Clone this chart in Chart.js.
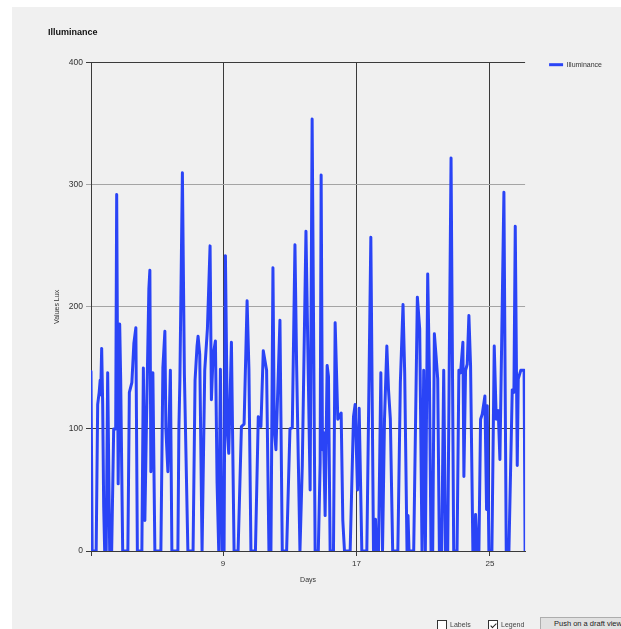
<!DOCTYPE html>
<html>
<head>
<meta charset="utf-8">
<title>Illuminance</title>
<script src="https://cdn.jsdelivr.net/npm/chart.js@4.4.1/dist/chart.umd.min.js"></script>
<style>
  html, body { margin: 0; padding: 0; width: 621px; height: 629px; overflow: hidden; background: #ffffff;
    font-family: "Liberation Sans", Arial, sans-serif; }
  #panel { position: absolute; left: 12px; top: 7px; width: 609px; height: 622px; background: #f0f0f0; }
  #chart { position: absolute; left: 0; top: 0; }
  .opt { position: absolute; top: 619px; height: 11px; font-size: 7px; line-height: 11px; color: #444; }
  .opt .box { position: absolute; left: 0; top: 1px; width: 8px; height: 8px; border: 1px solid #333; background: #fff; }
  .opt .tick { position: absolute; left: 3px; top: 1px; width: 2px; height: 5px; border-right: 1.2px solid #222;
    border-bottom: 1.2px solid #222; transform: rotate(45deg); }
  .opt span.txt { position: absolute; left: 13px; top: 0; white-space: nowrap; }
  #btn { position: absolute; left: 540px; top: 617px; width: 90px; height: 12px; background: #e1e1e1;
    border: 1px solid #adadad; font-size: 7.5px; line-height: 12px; color: #222; padding-left: 13px; white-space: nowrap; }
</style>
</head>
<body>
<div id="panel"></div>
<canvas id="chart" width="621" height="629"></canvas>
<div class="opt" style="left:437px;"><div class="box"></div><span class="txt">Labels</span></div>
<div class="opt" style="left:488px;"><div class="box"><div class="tick"></div></div><span class="txt">Legend</span></div>
<div id="btn">Push on a draft view</div>
<script>
// Illuminance readings: time in days and lux at each reading.
const days = [
  1.08, 1.15, 1.39, 1.48, 1.57, 1.63, 1.66, 1.72, 1.78, 1.84, 1.90, 1.99, 2.08, 2.20, 2.32, 2.44, 2.56, 2.62, 2.71, 2.80, 2.86, 2.98,
  3.29, 3.38, 3.53, 3.65, 3.77, 3.86, 4.13, 4.22, 4.31, 4.40, 4.55, 4.61, 4.67, 4.79, 4.91,
  5.27, 5.39, 5.51, 5.57, 5.69, 5.84, 5.93, 6.29, 6.35, 6.41, 6.56, 6.68, 6.89,
  7.20, 7.32, 7.44, 7.50, 7.60, 7.74, 7.90, 8.06, 8.22, 8.30, 8.40, 8.54, 8.64, 8.74, 8.84, 8.94,
  9.06, 9.14, 9.26, 9.34, 9.50, 9.66, 9.90, 10.10, 10.26, 10.44, 10.55, 10.67, 10.94, 11.11, 11.27, 11.41, 11.61, 11.75, 11.87, 11.99, 12.07, 12.17, 12.41, 12.55,
  12.81, 13.01, 13.15, 13.31, 13.41, 13.51, 13.61, 13.75, 13.97, 14.11, 14.22, 14.34, 14.52,
  14.71, 14.82, 14.88, 14.96, 15.02, 15.12, 15.24, 15.32, 15.42, 15.62, 15.72, 15.88, 16.08, 16.18, 16.28,
  16.62, 16.82, 16.92, 17.06, 17.16, 17.32, 17.62, 17.86, 18.02, 18.14, 18.20, 18.32, 18.46, 18.56, 18.68, 18.82, 18.92, 19.03, 19.17,
  19.48, 19.63, 19.79, 19.89, 20.03, 20.09, 20.15, 20.43, 20.65, 20.79, 20.93, 21.03, 21.13, 21.27, 21.37, 21.47, 21.57, 21.67, 21.77, 21.87, 21.97,
  22.11, 22.23, 22.34, 22.47, 22.57, 22.67, 22.83, 23.03, 23.14, 23.24, 23.38, 23.44, 23.54, 23.64, 23.74, 23.84, 23.98,
  24.10, 24.14, 24.24, 24.34, 24.44, 24.54, 24.70, 24.80, 24.84, 24.94, 25.12, 25.26, 25.38, 25.50, 25.60, 25.84, 25.98,
  26.14, 26.34, 26.44, 26.52, 26.64, 26.70, 26.85, 27.05, 27.11
];
const lux = [
  147, 0, 0, 120, 130, 140, 128, 166, 120, 37, 0, 0, 146, 0, 0, 100, 100, 292, 55, 186, 140, 0,
  0, 130, 138, 170, 183, 0, 0, 150, 25, 100, 215, 230, 65, 146, 0,
  0, 150, 180, 100, 65, 148, 0, 0, 100, 140, 310, 145, 0,
  0, 140, 168, 176, 161, 0, 148, 182, 250, 124, 160, 172, 56, 0, 149, 0,
  0, 242, 97, 80, 171, 0, 0, 102, 104, 205, 149, 0, 0, 110, 102, 164, 148, 0, 0, 232, 100, 83, 189, 0,
  0, 100, 101, 251, 152, 75, 0, 70, 262, 143, 50, 354, 0,
  0, 72, 308, 83, 97, 29, 152, 143, 0, 0, 187, 108, 113, 25, 0,
  0, 110, 120, 50, 117, 0, 0, 257, 0, 26, 0, 0, 146, 0, 108, 168, 132, 108, 0,
  0, 138, 202, 146, 0, 29, 0, 0, 208, 182, 0, 148, 0, 227, 148, 0, 0, 178, 160, 141, 0,
  0, 148, 0, 0, 165, 322, 0, 0, 148, 146, 171, 61, 148, 153, 193, 152, 0,
  0, 30, 0, 0, 108, 112, 127, 34, 119, 0, 0, 168, 108, 115, 75, 294, 0,
  0, 132, 130, 266, 70, 141, 148, 148, 0
];
const dayTicks = [9, 17, 25];
const luxTicks = [0, 100, 200, 300, 400];

const FONT = '"Liberation Sans", Arial, sans-serif';
const lineColor = '#2a44f6';
const darkGrid = '#3a3a3a';
const lightGrid = '#a4a4a4';
const textColor = '#333333';

Chart.defaults.font.family = FONT;

new Chart(document.getElementById('chart'), {
  type: 'line',
  data: {
    datasets: [{
      label: 'Illuminance',
      data: days.map((d, i) => ({ x: d, y: lux[i] })),
      borderColor: lineColor,
      backgroundColor: lineColor,
      borderWidth: 3,
      pointRadius: 0,
      tension: 0,
      borderJoinStyle: 'round',
      borderCapStyle: 'round',
      fill: false
    }]
  },
  options: {
    responsive: false,
    animation: false,
    devicePixelRatio: 1,
    layout: { padding: { left: 48, top: 27, right: 9, bottom: 24 } },
    plugins: {
      title: {
        display: true, text: 'Illuminance', align: 'start', color: '#111',
        font: { size: 9, weight: 'bold' }, padding: { top: 0, bottom: 25 }
      },
      legend: {
        display: true, position: 'right', align: 'start',
        title: { display: true, text: '', font: { size: 8.5 }, padding: 0 },
        labels: {
          usePointStyle: true, pointStyle: 'line', pointStyleWidth: 14,
          padding: 24, color: textColor, font: { size: 7 }
        }
      },
      tooltip: { enabled: false }
    },
    scales: {
      x: {
        type: 'linear',
        min: days[0],
        max: days[days.length - 1],
        afterBuildTicks: s => { s.ticks = [s.min, ...dayTicks].map(v => ({ value: v })); },
        afterFit: s => { s.height = 54; },
        ticks: {
          autoSkip: false, maxRotation: 0, padding: 3, color: textColor, font: { size: 8 },
          callback: v => dayTicks.includes(v) ? String(v) : ''
        },
        grid: { color: darkGrid, lineWidth: 1, tickLength: 5 },
        border: { color: darkGrid, width: 1 },
        title: { display: true, text: 'Days', color: textColor, font: { size: 7 }, padding: { top: 0, bottom: 21 } }
      },
      y: {
        min: 0,
        max: 400,
        afterBuildTicks: s => { s.ticks = luxTicks.map(v => ({ value: v })); },
        afterFit: s => { s.width = 43; },
        ticks: { padding: 3, color: textColor, font: { size: 8.5 } },
        grid: {
          color: c => (c.tick && (c.tick.value === 200 || c.tick.value === 300)) ? lightGrid : darkGrid,
          lineWidth: 1, tickLength: 5
        },
        border: { color: darkGrid, width: 1 },
        title: { display: true, text: 'Values Lux', color: textColor, font: { size: 7 }, padding: { top: 5, bottom: 0 } }
      }
    }
  }
});
</script>
</body>
</html>
